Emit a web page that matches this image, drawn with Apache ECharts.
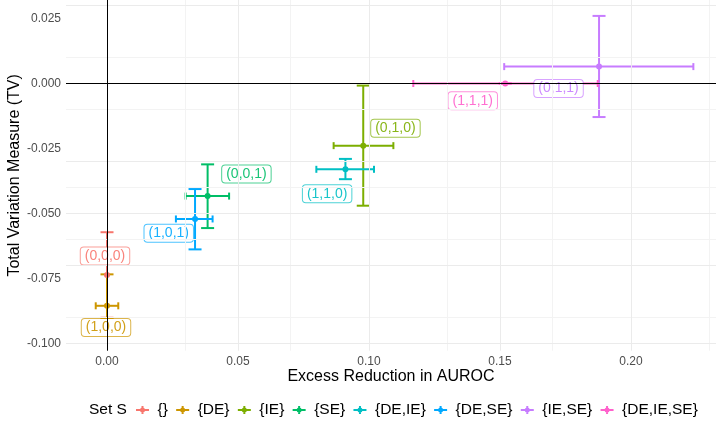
<!DOCTYPE html>
<html>
<head>
<meta charset="utf-8">
<script src="https://cdn.jsdelivr.net/npm/echarts@6/dist/echarts.min.js"></script>
<style>
html,body{margin:0;padding:0;background:#fff;}
#chart{width:716px;height:427px;}
</style>
</head>
<body>
<div id="chart"></div>
<script>
// ---- data ----
const sets   = ['{}','{DE}','{IE}','{SE}','{DE,IE}','{DE,SE}','{IE,SE}','{DE,IE,SE}'];
const codes  = ['(0,0,0)','(1,0,0)','(0,1,0)','(0,0,1)','(1,1,0)','(1,0,1)','(0,1,1)','(1,1,1)'];
const xVals  = [0.0000, 0.0000, 0.0978, 0.0384, 0.0910, 0.0336, 0.1878, 0.1520];
const yVals  = [-0.0737, -0.0855, -0.0239, -0.0433, -0.0330, -0.0521, 0.0065, 0.0000];
const xLow   = [0.0000, -0.0043, 0.0865, 0.0300, 0.0799, 0.0263, 0.1516, 0.1169];
const xHigh  = [0.0000, 0.0043, 0.1093, 0.0466, 0.1019, 0.0403, 0.2238, 0.1873];
const yLow   = [-0.0901, -0.0902, -0.0470, -0.0556, -0.0368, -0.0638, -0.0129, 0.0000];
const yHigh  = [-0.0572, -0.0734, -0.0008, -0.0311, -0.0290, -0.0406, 0.0260, 0.0000];
const xTicks = [0, 0.05, 0.10, 0.15, 0.20];
const yTicks = [-0.100, -0.075, -0.050, -0.025, 0.000, 0.025];
const xMinor = [0.025, 0.075, 0.125, 0.175, 0.225];
const yMinor = [-0.0875, -0.0625, -0.0375, -0.0125, 0.0125];

// ---- styles ----
const colors = ['#F8766D','#CD9600','#7CAE00','#00BE67','#00BFC4','#00A9FF','#C77CFF','#FF61CC'];
// label offsets in pixels from the point (repel placement)
const labelOffsets = [[-2,-19],[-1,21.6],[32.2,-17.4],[38.8,-22],[-18.3,24.4],[-26.3,14.3],[-40.5,22],[-32.5,17.2]];
const FONT = '"Liberation Sans", Arial, Helvetica, sans-serif';
const legendIcon = 'path://M0,3.5h13v2h-13z M5.5,0.5h2v8h-2z M9,4.5a2.5,2.5 0 1,1 -5,0a2.5,2.5 0 1,1 5,0z';

function hexA(hex, a){
  const r=parseInt(hex.slice(1,3),16), g=parseInt(hex.slice(3,5),16), b=parseInt(hex.slice(5,7),16);
  return 'rgba('+r+','+g+','+b+','+a+')';
}

const chart = echarts.init(document.getElementById('chart'), null, {renderer:'canvas'});

const series = [];
// grid lines
series.push({
  type:'scatter', data:[], z:0, silent:true,
  markLine:{
    silent:true, symbol:['none','none'], label:{show:false}, animation:false,
    data: [].concat(
      xMinor.map(v=>({xAxis:v, lineStyle:{color:'#F3F3F3', width:1, type:'solid'}})),
      yMinor.map(v=>({yAxis:v, lineStyle:{color:'#F3F3F3', width:1, type:'solid'}})),
      xTicks.map(v=>({xAxis:v, lineStyle:{color:'#EBEBEB', width:1, type:'solid'}})),
      yTicks.map(v=>({yAxis:v, lineStyle:{color:'#EBEBEB', width:1, type:'solid'}})),
      [{xAxis:0, lineStyle:{color:'#000', width:1, type:'solid'}},
       {yAxis:0, lineStyle:{color:'#000', width:1, type:'solid'}}]
    )
  }
});
// error bars
sets.forEach((s,i)=>{
  series.push({
    type:'custom', name:s, z:2,
    dimensions:['x','y','xlo','xhi','ylo','yhi'],
    encode:{x:0, y:1},
    data:[[xVals[i], yVals[i], xLow[i], xHigh[i], yLow[i], yHigh[i]]],
    itemStyle:{color:colors[i]},
    renderItem:function(params, api){
      const x=api.value(0), y=api.value(1);
      const c=api.coord([x,y]);
      const t=api.coord([x,api.value(5)]), b=api.coord([x,api.value(4)]);
      const l=api.coord([api.value(2),y]), r=api.coord([api.value(3),y]);
      const st={stroke:colors[i], lineWidth:2, fill:null};
      const line=(x1,y1,x2,y2)=>({type:'line', shape:{x1,y1,x2,y2}, style:st});
      return {type:'group', children:[
        line(c[0],t[1],c[0],b[1]),
        line(c[0]-6.5,t[1],c[0]+6.5,t[1]),
        line(c[0]-6.5,b[1],c[0]+6.5,b[1]),
        line(l[0],c[1],r[0],c[1]),
        line(l[0],c[1]-3.5,l[0],c[1]+3.5),
        line(r[0],c[1]-3.5,r[0],c[1]+3.5)
      ]};
    }
  });
});
// points
sets.forEach((s,i)=>{
  series.push({
    type:'scatter', name:s, z:3, symbol:'circle', symbolSize:6,
    itemStyle:{color:colors[i], opacity:1},
    data:[[xVals[i], yVals[i]]]
  });
});
// labels
series.push({
  type:'custom', z:4, silent:true,
  dimensions:['x','y','k'], encode:{x:0,y:1},
  data: codes.map((c,i)=>[xVals[i], yVals[i], i]),
  renderItem:function(params, api){
    const k=api.value(2);
    const p=api.coord([api.value(0), api.value(1)]);
    return {type:'text', x:p[0]+labelOffsets[k][0], y:p[1]+labelOffsets[k][1],
      style:{text:codes[k], fill:hexA(colors[k],0.9), font:'14px '+FONT,
        align:'center', verticalAlign:'middle', lineHeight:14,
        backgroundColor:'#fff', borderColor:hexA(colors[k],0.7), borderWidth:1,
        borderRadius:3, padding:[2,4,1,4]}};
  }
});

const option = {
  animation:false,
  backgroundColor:'#fff',
  grid:{left:66, right:0, top:0, bottom:76.3, containLabel:false, outerBoundsMode:'none'},
  xAxis:{
    type:'value', min:-0.01565, max:0.23244,
    name:'Excess Reduction in AUROC', nameLocation:'middle', nameGap:18, nameMoveOverlap:false,
    nameTextStyle:{color:'#000', fontSize:16, fontFamily:FONT, verticalAlign:'top'},
    axisLine:{show:false}, axisTick:{show:false, customValues:xTicks}, splitLine:{show:false},
    axisLabel:{customValues:xTicks, color:'#4D4D4D', fontSize:12, fontFamily:FONT, margin:5,
      formatter:v=>v.toFixed(2)}
  },
  yAxis:{
    type:'value', min:-0.10277, max:0.03212,
    name:'Total Variation Measure (TV)', nameLocation:'middle', nameGap:43, nameMoveOverlap:false,
    nameTextStyle:{color:'#000', fontSize:16, fontFamily:FONT},
    axisLine:{show:false}, axisTick:{show:false, customValues:yTicks}, splitLine:{show:false},
    axisLabel:{customValues:yTicks, color:'#4D4D4D', fontSize:12, fontFamily:FONT, margin:5,
      formatter:v=>v.toFixed(3)}
  },
  legend:{
    left:136, top:402, orient:'horizontal', padding:0,
    itemWidth:13, itemHeight:9, itemGap:8.3,
    textStyle:{color:'#000', fontSize:15.5, fontFamily:FONT, padding:[0,0,0,3.5]},
    data: sets.map(s=>({name:s, icon:legendIcon})),
    selectedMode:false
  },
  graphic:[{type:'text', x:89, y:410, style:{text:'Set S', fill:'#000', font:'15.5px '+FONT, verticalAlign:'middle'}}],
  series: series
};
chart.setOption(option);
</script>
</body>
</html>
